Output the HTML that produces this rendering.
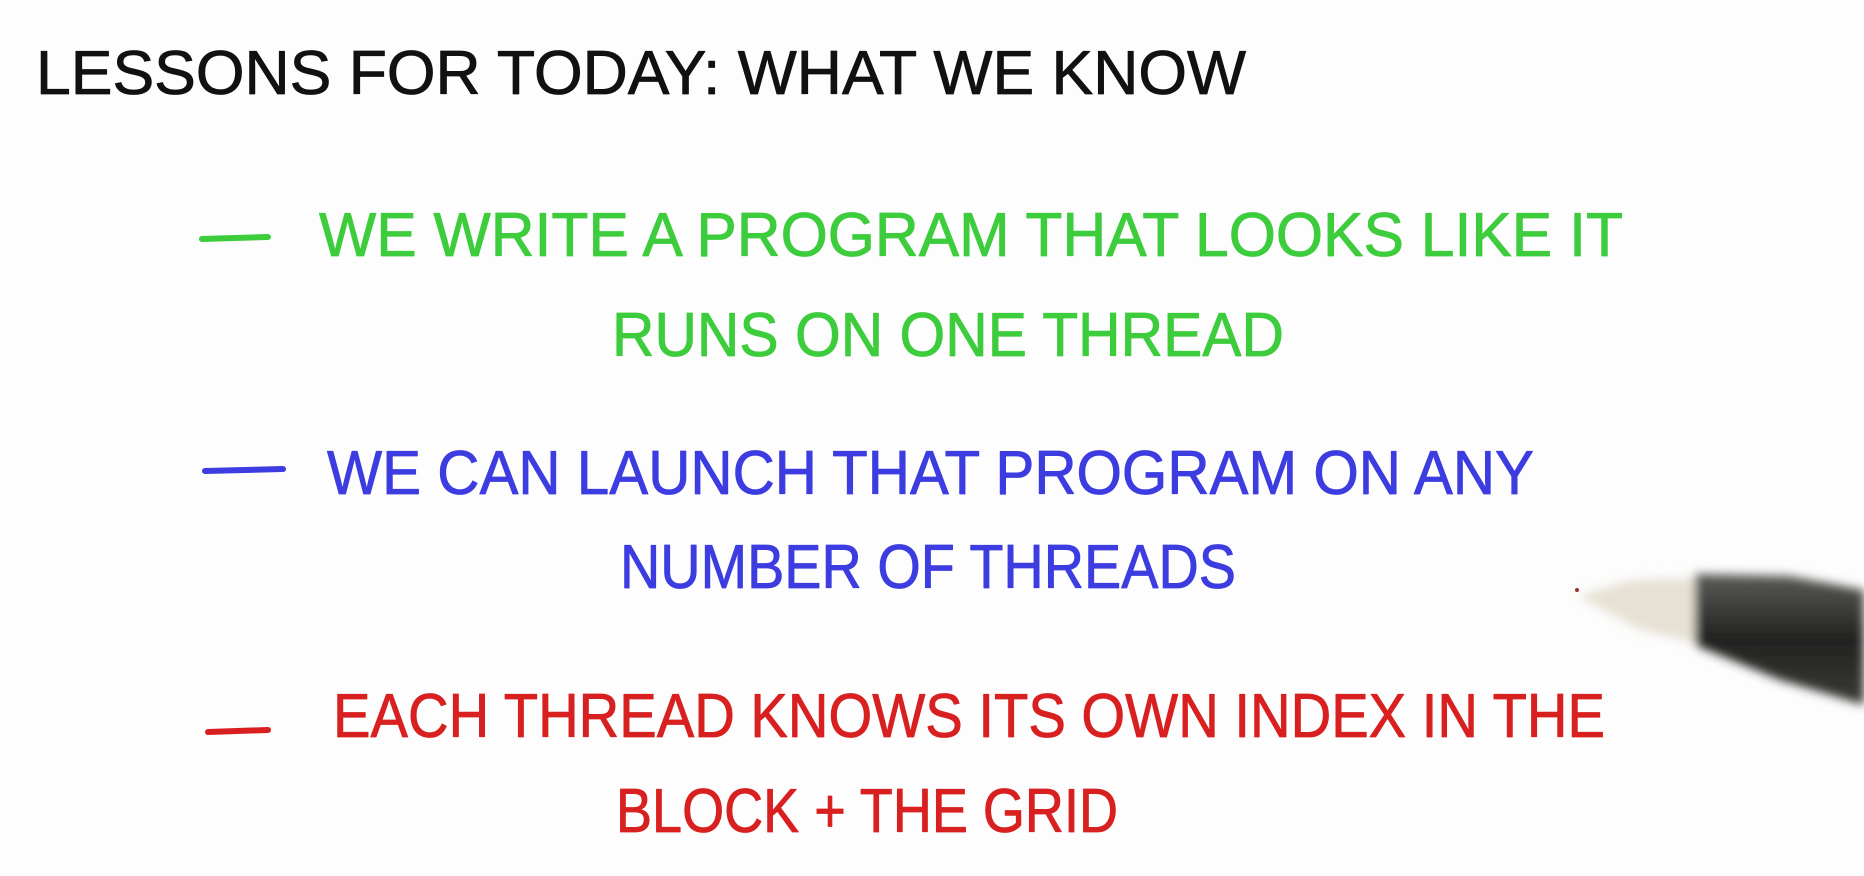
<!DOCTYPE html>
<html><head><meta charset="utf-8"><style>
html,body{margin:0;padding:0;background:#fff;}
svg{display:block}
text{font-family:"Liberation Sans",sans-serif;font-size:62px;}
</style></head><body>
<svg width="1864" height="876" viewBox="0 0 1864 876" xmlns="http://www.w3.org/2000/svg">
<defs>
<linearGradient id="pen" x1="0" y1="0" x2="0" y2="1">
<stop offset="0" stop-color="#5a5a56"/><stop offset="0.5" stop-color="#222220"/><stop offset="1" stop-color="#3a3a36"/>
</linearGradient>
<filter id="blur"><feGaussianBlur stdDeviation="5"/></filter>
</defs>
<rect width="1864" height="876" fill="#fdfdfd"/>
<g stroke-width="0.8" stroke-linejoin="round">
<text x="36" y="94" textLength="1210" lengthAdjust="spacingAndGlyphs" fill="#111" stroke="#111">LESSONS   FOR TODAY:  WHAT WE KNOW</text>

<line x1="202" y1="239" x2="268" y2="237" stroke="#3ccc3c" stroke-width="6" stroke-linecap="round"/>
<text x="319" y="256" textLength="1304" lengthAdjust="spacingAndGlyphs" fill="#3ccc3c" stroke="#3ccc3c">WE WRITE  A  PROGRAM  THAT  LOOKS   LIKE  IT</text>
<text x="612" y="356" textLength="672" lengthAdjust="spacingAndGlyphs" fill="#3ccc3c" stroke="#3ccc3c">RUNS  ON  ONE  THREAD</text>

<line x1="205" y1="471" x2="283" y2="469" stroke="#3c3ce0" stroke-width="6" stroke-linecap="round"/>
<text x="327" y="494" textLength="1207" lengthAdjust="spacingAndGlyphs" fill="#3c3ce0" stroke="#3c3ce0">WE  CAN  LAUNCH  THAT  PROGRAM  ON  ANY</text>
<text x="620" y="588" textLength="616" lengthAdjust="spacingAndGlyphs" fill="#3c3ce0" stroke="#3c3ce0">NUMBER  OF  THREADS</text>

<line x1="208" y1="732" x2="268" y2="730" stroke="#d82020" stroke-width="6" stroke-linecap="round"/>
<text x="333" y="737" textLength="1272" lengthAdjust="spacingAndGlyphs" fill="#d82020" stroke="#d82020">EACH  THREAD  KNOWS  ITS  OWN  INDEX  IN  THE</text>
<text x="616" y="832" textLength="502" lengthAdjust="spacingAndGlyphs" fill="#d82020" stroke="#d82020">BLOCK + THE  GRID</text>
</g>

<g filter="url(#blur)">
<path d="M1578 596 L1630 580 L1705 578 L1705 645 L1640 630 Z" fill="#e6e1d4"/>
<path d="M1695 574 L1790 576 L1864 590 L1864 705 L1780 680 L1695 645 Z" fill="url(#pen)"/>
</g>
<circle cx="1577" cy="590" r="2" fill="#a03030"/>
</svg>
</body></html>
